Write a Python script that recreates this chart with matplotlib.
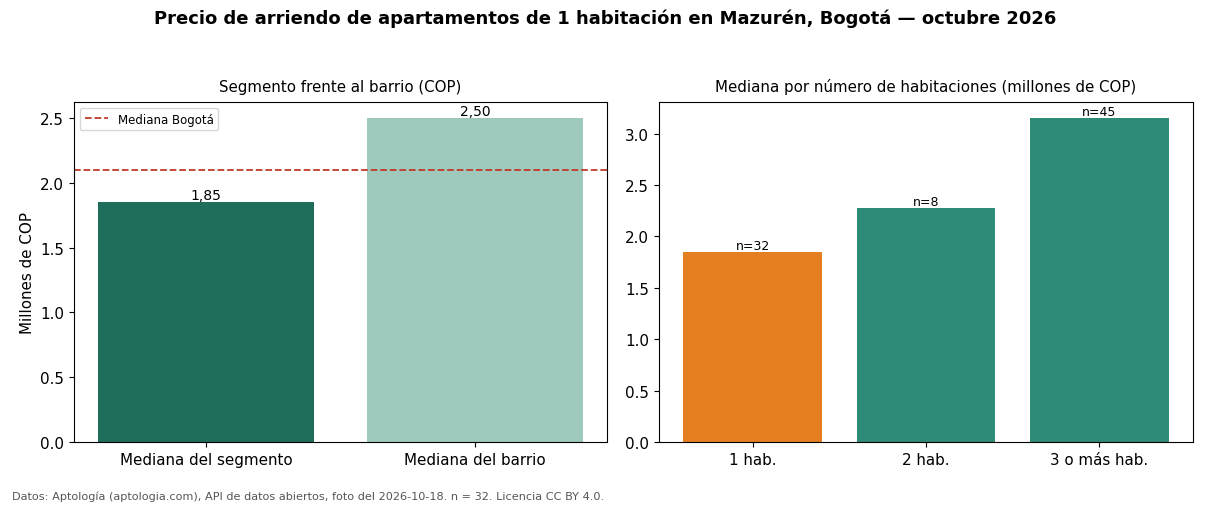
import numpy as np
import matplotlib.pyplot as plt

plt.rcParams['font.family'] = ['DejaVu Sans']

# Datos
seg_labels = ["Mediana del segmento", "Mediana del barrio"]
seg_values = [1.85, 2.50]
mediana_bogota = 2.10

hab_labels = ["1 hab.", "2 hab.", "3 o más hab."]
hab_values = [1.85, 2.28, 3.15]
hab_n = [32, 8, 45]

fig = plt.figure(figsize=(12.1, 5.06), dpi=100)
ax1 = fig.add_axes([74 / 1210, 1 - 443 / 506, 533 / 1210, 340 / 506])
ax2 = fig.add_axes([659 / 1210, 1 - 443 / 506, 534 / 1210, 340 / 506])

# Panel izquierdo
x1 = np.arange(len(seg_labels))
bars = ax1.bar(x1, seg_values, width=0.8, color=["#1f6e5c", "#9fc9bc"])
for b, v in zip(bars, seg_values):
    ax1.text(b.get_x() + b.get_width() / 2, v, f"{v:.2f}".replace(".", ","),
             ha="center", va="bottom", fontsize=10)
ax1.axhline(mediana_bogota, color="#c0392b", linestyle="--", linewidth=1.3,
            label="Mediana Bogotá")
ax1.set_xticks(x1)
ax1.set_xticklabels(seg_labels, fontsize=10.9)
ax1.set_ylabel("Millones de COP", fontsize=10.9)
ax1.set_title("Segmento frente al barrio (COP)", fontsize=10.8, pad=8)
ax1.legend(loc="upper left", fontsize=8.5)
ax1.tick_params(axis="y", labelsize=10.9)

# Panel derecho
x2 = np.arange(len(hab_labels))
colors2 = ["#e67e22", "#2e8b77", "#2e8b77"]
bars2 = ax2.bar(x2, hab_values, width=0.8, color=colors2)
for b, v, n in zip(bars2, hab_values, hab_n):
    ax2.text(b.get_x() + b.get_width() / 2, v, f"n={n}",
             ha="center", va="bottom", fontsize=9)
ax2.set_xticks(x2)
ax2.set_xticklabels(hab_labels, fontsize=10.9)
ax2.set_title("Mediana por número de habitaciones (millones de COP)",
              fontsize=10.8, pad=8)
ax2.tick_params(axis="y", labelsize=10.9)

fig.suptitle("Precio de arriendo de apartamentos de 1 habitación en Mazurén, Bogotá — octubre 2026",
             fontsize=13, fontweight="bold", y=0.981)
fig.text(12 / 1210, 1 - 497 / 506, "Datos: Aptología (aptologia.com), API de datos abiertos, "
         "foto del 2026-10-18. n = 32. Licencia CC BY 4.0.",
         fontsize=8.15, color="#555555", va="center")

fig.savefig("out.png", dpi=100)
